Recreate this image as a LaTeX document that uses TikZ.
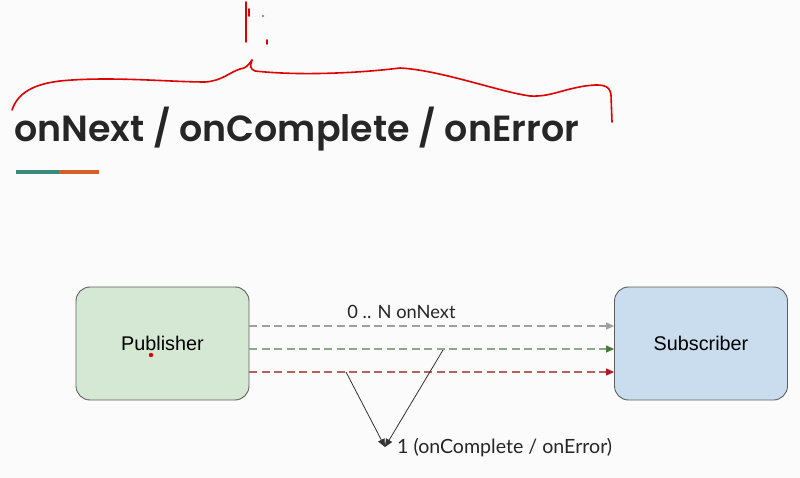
\documentclass[tikz,border=0pt]{standalone}
\usepackage{fontspec}
\setmainfont{Liberation Sans}
\newfontfamily\titlefont{Poppins SemiBold}
\newfontfamily\latofont{Lato}
\usetikzlibrary{arrows.meta}
\definecolor{bgc}{HTML}{FBFBFB}
\definecolor{pubfill}{HTML}{D5E8D4}
\definecolor{subfill}{HTML}{C9DDEF}
\definecolor{boxline}{HTML}{5F5F5F}
\definecolor{teal}{HTML}{3A8A7A}
\definecolor{orng}{HTML}{D4602A}
\definecolor{pen}{HTML}{E00000}
\definecolor{lgray}{HTML}{A0A0A0}
\definecolor{lgreen}{HTML}{8FA88A}
\definecolor{dgreen}{HTML}{4A7A3A}
\definecolor{lred}{HTML}{B86060}
\definecolor{dred}{HTML}{B0182B}
\tikzset{
  actor/.style={draw=boxline, line width=0.9pt, rounded corners=14pt, minimum width=173pt, minimum height=113pt, font=\fontsize{19.8}{22}\selectfont},
  flow/.style={dash pattern=on 8pt off 4.5pt, line width=1.2pt},
  vline/.style={draw=black!80, line width=0.8pt, -{Triangle[length=8pt,width=7pt]}},
  ink/.style={draw=pen, line width=1.6pt, line cap=round, line join=round}
}
\begin{document}
\begin{tikzpicture}[x=1pt,y=-1pt]
\fill[bgc] (0,0) rectangle (800,478);
\useasboundingbox (0,0) rectangle (800,478);
% hand drawn red marks
\draw[ink] (12,110) .. controls (18,92) and (35,84) .. (60,81)
  .. controls (110,76) and (170,82) .. (205,82)
  .. controls (222,81) and (230,72) .. (240,69)
  .. controls (246,68) and (248,66) .. (252,60);
\draw[ink] (252,60) .. controls (250,66) and (250,69) .. (255,71)
  .. controls (300,76) and (360,73) .. (400,68)
  .. controls (440,70) and (500,92) .. (530,96)
  .. controls (550,97) and (560,90) .. (585,86)
  .. controls (600,84) and (610,84) .. (611,95) -- (612,122);
\draw[ink] (246,2) -- (246,42);
\draw[ink] (249,9) -- (249,16);
\draw[ink] (267,40) -- (267,44);
\fill[pen] (263,16) circle (0.9);
% title
\node[anchor=base west, inner sep=0pt, font=\titlefont\fontsize{36.4}{40}\selectfont, text=black!85] (title) at (14,142) {onNext / onComplete / onError};
\fill[teal] (16,170) rectangle (59,174);
\fill[orng] (59,170) rectangle (99,174);
% boxes
\node[actor, fill=pubfill] (pub) at (162.5,343.5) {Publisher};
\node[actor, fill=subfill] (sub) at (701,343.5) {Subscriber};
\fill[pen] (151,355) circle (2.2);
% flows
\coordinate (a1) at (pub.east |- 0,326);
\coordinate (b1) at (sub.west |- 0,326);
\coordinate (a2) at (pub.east |- 0,349);
\coordinate (b2) at (sub.west |- 0,349);
\coordinate (a3) at (pub.east |- 0,372);
\coordinate (b3) at (sub.west |- 0,372);
\draw[flow, lgray, -{Triangle[length=8pt,width=7pt]}] (a1) -- (b1);
\draw[flow, lgreen, -{Triangle[length=8pt,width=7pt,color=dgreen,fill=dgreen]}] (a2) -- (b2);
\draw[flow, lred, -{Triangle[length=8pt,width=7pt,color=dred,fill=dred]}] (a3) -- (b3);
\node[font=\latofont\fontsize{18.3}{20}\selectfont, text=black!85] (lab1) at (401.5,312) {0 .. N onNext};
% V lines
\coordinate (v1) at (346,372);
\coordinate (v2) at (443,350);
\coordinate (tip) at (385,447);
\draw[vline] (v1) -- (tip);
\draw[vline] (v2) -- (tip);
\node[anchor=west, inner sep=0pt, font=\latofont\fontsize{19.6}{22}\selectfont, text=black!85] (lab2) at (397,448) {1 (onComplete / onError)};
\end{tikzpicture}
\end{document}
